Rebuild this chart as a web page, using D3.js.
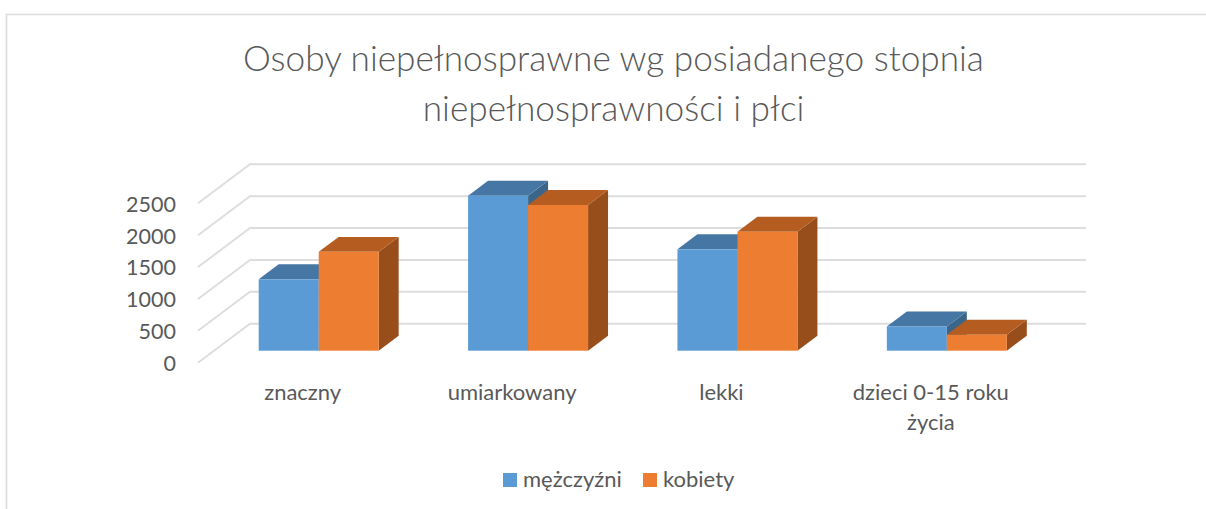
<!DOCTYPE html>
<html>
<head>
<meta charset="utf-8">
<script src="https://cdn.jsdelivr.net/npm/d3@7"></script>
<style>
  html, body { margin: 0; padding: 0; background: #fff; overflow: hidden; }
  text { font-family: Lato, "Open Sans", sans-serif; fill: #595959; }
</style>
</head>
<body>
<svg id="chart" width="1206" height="509"></svg>
<script>
// values
var titleLines = ['Osoby niepełnosprawne wg posiadanego stopnia', 'niepełnosprawności i płci'];
var categories = ['znaczny', 'umiarkowany', 'lekki', 'dzieci 0-15 roku życia'];
var categoryLines = [['znaczny'], ['umiarkowany'], ['lekki'], ['dzieci 0-15 roku', 'życia']];
var seriesNames = ['mężczyźni', 'kobiety'];
var men = [1120, 2430, 1590, 380];
var women = [1550, 2285, 1865, 250];
var yTicks = [0, 500, 1000, 1500, 2000, 2500];

var front = ['#5B9BD5', '#ED7D31'];
var topFace = ['#4677A4', '#B55D21'];
var sideFace = ['#3B6689', '#984E1B'];

var svg = d3.select('#chart');

// outer chart frame, runs off the picture on the right and bottom
svg.append('path')
  .attr('d', 'M6.5,509V14.5H1206')
  .attr('fill', 'none')
  .attr('stroke', '#dcdcdc')
  .attr('stroke-width', 1.6);

var x = d3.scaleBand().domain(categories).range([198, 1035.5]);
var y = d3.scaleLinear().domain([0, 2500]).range([362.7, 203.3]);
var depthX = d3.scaleLinear().domain([0, 1]).range([0, 52]);
var depthY = d3.scaleLinear().domain([0, 1]).range([0, -39]);

// bar sits in the middle of the floor, this much of the band is the bar
var barD0 = 0.308, barD1 = 0.692;
var barWidth = 60;
var gridRight = 1086;

var title = svg.append('g');
titleLines.forEach(function(t, i) {
  title.append('text')
    .attr('x', 613.5)
    .attr('y', 71 + i * 50)
    .attr('text-anchor', 'middle')
    .attr('font-size', 35.2)
    .attr('font-weight', 300)
    .text(t);
});

// grid: back wall line plus diagonal on the side wall
var grid = svg.append('g');
yTicks.forEach(function(v) {
  var backX = x.range()[0] + depthX(1);
  var backY = y(v) + depthY(1);
  grid.append('path')
    .attr('d', 'M' + x.range()[0] + ',' + y(v) + 'L' + backX + ',' + backY + 'H' + gridRight)
    .attr('fill', 'none')
    .attr('stroke', '#dddddd')
    .attr('stroke-width', 2);
});

var yAxis = d3.axisLeft(y).tickValues(yTicks).tickFormat(d3.format('d')).tickSize(0).tickPadding(0);
var yG = svg.append('g')
  .attr('transform', 'translate(176,1)')
  .call(yAxis);
yG.select('.domain').remove();
yG.selectAll('text')
  .attr('font-size', 21.5)
  .attr('font-family', 'Lato')
  .attr('fill', '#595959');

function drawBar(g, cat, value, s) {
  var x0 = x(cat) + x.bandwidth() / 2 + depthX(barD0) - barWidth + s * barWidth;
  var x1 = x0 + barWidth;
  var yBase = y(0) + depthY(barD0);
  var yTop = y(value) + depthY(barD0);
  var dx = depthX(barD1) - depthX(barD0);
  var dy = depthY(barD1) - depthY(barD0);
  // side
  g.append('path')
    .attr('d', 'M' + x1 + ',' + yBase + 'L' + (x1 + dx) + ',' + (yBase + dy) + 'V' + (yTop + dy) + 'L' + x1 + ',' + yTop + 'Z')
    .attr('fill', sideFace[s]);
  // top
  g.append('path')
    .attr('d', 'M' + x0 + ',' + yTop + 'L' + (x0 + dx) + ',' + (yTop + dy) + 'H' + (x1 + dx) + 'L' + x1 + ',' + yTop + 'Z')
    .attr('fill', topFace[s]);
  // front
  g.append('rect')
    .attr('x', x0)
    .attr('y', yTop)
    .attr('width', barWidth)
    .attr('height', yBase - yTop)
    .attr('fill', front[s]);
}

var bars = svg.append('g');
categories.forEach(function(c, i) {
  drawBar(bars, c, men[i], 0);
  drawBar(bars, c, women[i], 1);
});

categories.forEach(function(c, i) {
  categoryLines[i].forEach(function(line, j) {
    svg.append('text')
      .attr('x', x(c) + x.bandwidth() / 2)
      .attr('y', 400 + j * 30)
      .attr('text-anchor', 'middle')
      .attr('font-size', 22)
      .text(line);
  });
});

// legend
var legendX = [503, 643];
seriesNames.forEach(function(name, i) {
  svg.append('rect')
    .attr('x', legendX[i])
    .attr('y', 473)
    .attr('width', 14)
    .attr('height', 14)
    .attr('fill', front[i]);
  svg.append('text')
    .attr('x', legendX[i] + 20)
    .attr('y', 487)
    .attr('font-size', 22)
    .text(name);
});
</script>
</body>
</html>
